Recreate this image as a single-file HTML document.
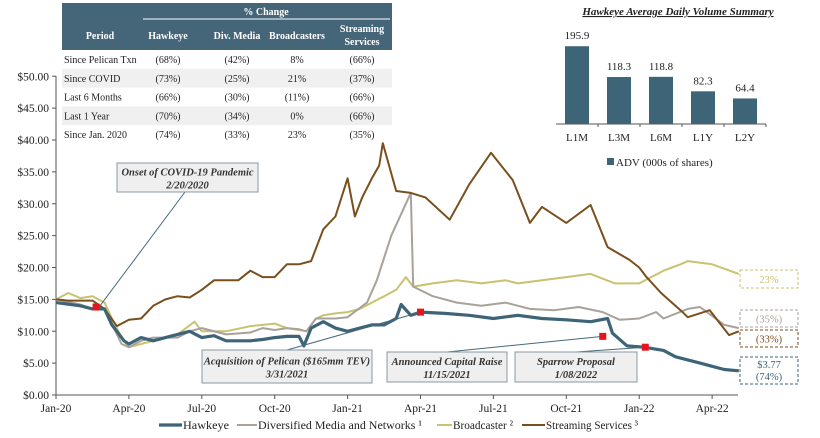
<!DOCTYPE html>
<html><head><meta charset="utf-8"><style>
body{margin:0;background:#fff;width:820px;height:433px;overflow:hidden;font-family:"Liberation Serif",serif;}
svg text{font-family:"Liberation Serif",serif;}
</style></head><body>
<svg id="c" width="820" height="433" viewBox="0 0 820 433" xmlns="http://www.w3.org/2000/svg">
<g id="table"></g>
<g id="adv"></g>
<g id="main"></g>
</svg>
<script>
// ---- data ----
const yTicks=[0,5,10,15,20,25,30,35,40,45,50];
const xTickLabels=["Jan-20","Apr-20","Jul-20","Oct-20","Jan-21","Apr-21","Jul-21","Oct-21","Jan-22","Apr-22"];
const xTickMonths=[0,3,6,9,12,15,18,21,24,27];
const hawkeyeT=[0,1,1.5,2,2.3,2.8,3,3.5,4,4.5,5.5,6,6.5,7,7.5,8,8.5,9,9.5,10,10.2,10.5,11,11.5,12,12.5,13,13.5,14,14.2,14.6,15,16,17,18,19,20,21,22,22.7,22.9,23.5,24.2,25,25.5,26,26.5,27,27.5,28.1];
const hawkeyeV=[14.5,14,13.5,13.5,11,8.5,8,9,8.5,9,10,9,9.3,8.5,8.5,8.5,8.7,9,9.2,9.2,7.7,10.5,11.5,10.5,10,10.5,11,11,12,14.2,12.5,13,12.8,12.5,12,12.5,12,11.8,11.5,12,9.7,7.7,7.5,7,6,5.5,5,4.5,4,3.8];
const divT=[0,1,1.5,2,2.7,3,3.5,4,5,5.5,6,7,8,8.5,9,9.5,10,10.3,10.7,11,11.5,12,12.8,13.2,13.8,14.6,14.7,15.5,16.5,17.5,18.5,19.5,20.5,21.5,22.5,23.2,24,24.7,25,26,26.5,27.5,28.1];
const divV=[15,14.2,13.5,13.5,8,7.5,8.5,9,9,10,10.5,9.5,9.8,10.5,10.2,10.5,10.3,10,12,12,12,12.2,14.5,18,25,31.7,17,15.5,14.5,14,14.5,13.5,13.3,13.8,13,11.8,12,13,12,13.5,13.8,11,10.5];
const brdT=[0,0.5,1,1.5,2,2.3,2.7,3,3.5,4,4.5,5,5.7,6,7,8,8.5,9,9.5,10,10.3,10.7,11,11.5,12,12.5,13,13.5,14,14.4,14.7,15.5,16.5,17.5,18.5,19,20,21,22,23,24,25,25.7,26,27,28.1];
const brdV=[15,16,15.2,15.5,14.5,12,9,7.5,8,8.5,9,9.5,11.5,10,10,10.8,11,11.2,10.5,10.2,10,12,12.5,12.8,13,13.5,14.5,15.5,16.5,18.5,17,17.5,18,17.5,18,17.5,18,18.5,19,17.5,17.5,19.5,20.5,21,20.5,19];
const strT=[0,0.5,1,1.5,2,2.5,3,3.5,4,4.5,5,5.5,6,6.5,7,7.5,8,8.5,9,9.5,10,10.5,11,11.5,12,12.3,12.6,13,13.3,13.45,14,14.6,15.2,16.2,17,17.9,18.8,19.5,20,21,22,22.7,23.6,24,24.3,24.9,25.7,26,26.9,27.7,28.1];
const strV=[15,14.8,14.8,14.8,13.5,10.8,11.8,12,14,15,15.5,15.3,16.5,18,18,18,19.5,18.5,18.5,20.5,20.5,21,26,28,34,28,31,34,36,39.5,32,31.7,31,27.5,33,38,33.7,27,29.5,27,29.8,23.2,21.2,20,18.5,16,13.3,12.2,13.3,9.4,10];
const eventT=[1.65,15,22.5,24.25];
const eventV=[13.8,13,9.2,7.5];
const advCats=["L1M","L3M","L6M","L1Y","L2Y"];
const advVals=[195.9,118.3,118.8,82.3,64.4];
const tblRows=["Since Pelican Txn","Since COVID","Last 6 Months","Last 1 Year","Since Jan. 2020"];
const tblHawk=["(68%)","(73%)","(66%)","(70%)","(74%)"];
const tblDiv=["(42%)","(25%)","(30%)","(34%)","(33%)"];
const tblBrd=["8%","21%","(11%)","0%","23%"];
const tblStr=["(66%)","(37%)","(66%)","(66%)","(35%)"];

const NS="http://www.w3.org/2000/svg";
function mk(parent,tag,attrs,txt){const e=document.createElementNS(NS,tag);for(const k in attrs)e.setAttribute(k,attrs[k]);if(txt!==undefined)e.textContent=txt;parent.appendChild(e);return e;}
const X=m=>56+m*24.3;
const Y=v=>395-v*6.375;

// ---- main chart ----
const main=document.getElementById('main');
let ax=mk(main,'line',{x1:56,y1:76,x2:56,y2:395,stroke:'#555','stroke-width':1});


ax=mk(main,'line',{x1:56,y1:395,x2:738,y2:395,stroke:'#555','stroke-width':1});


yTicks.forEach(v=>{
  mk(main,'line',{x1:52,y1:Y(v),x2:56,y2:Y(v),stroke:'#555'});
  const t=mk(main,'text',{x:49,y:Y(v)+4,'text-anchor':'end','font-size':11.5,fill:'#222'},'$'+v.toFixed(2));
  
  
});
xTickMonths.forEach((m,i)=>{
  mk(main,'line',{x1:X(m),y1:395,x2:X(m),y2:399,stroke:'#555'});
  const t=mk(main,'text',{x:X(m),y:412,'text-anchor':'middle','font-size':11.5,fill:'#222'},xTickLabels[i]);
  
  
});
function series(T,V,color,w,name){
  const d=T.map((t,i)=>(i?'L':'M')+X(t).toFixed(1)+','+Y(V[i]).toFixed(1)).join(' ');
  const p=mk(main,'path',{d:d,fill:'none',stroke:color,'stroke-width':w,'stroke-linejoin':'round'});
  
  
}
series(brdT,brdV,'#c9c26f',2,'broadcaster-line');
series(divT,divV,'#a8a29a',2,'diversified-media-line');
series(strT,strV,'#7a4f1e',2,'streaming-services-line');
series(hawkeyeT,hawkeyeV,'#3e6478',3.2,'hawkeye-line');

// annotations
function note(x,y,w,h,l1,l2,lx1,ly1,lx2,ly2,name){
  mk(main,'line',{x1:lx1,y1:ly1,x2:lx2,y2:ly2,stroke:'#44697c','stroke-width':1});
  const g=mk(main,'g',{});
  
  
  mk(g,'rect',{x:x,y:y,width:w,height:h,fill:'#efefef',stroke:'#8a9aa4','stroke-width':1});
  mk(g,'text',{x:x+w/2,y:y+h/2-2,'text-anchor':'middle','font-size':10.5,'font-style':'italic','font-weight':'bold',fill:'#333'},l1);
  mk(g,'text',{x:x+w/2,y:y+h/2+11,'text-anchor':'middle','font-size':10.5,'font-style':'italic','font-weight':'bold',fill:'#333'},l2);
}
note(117,163,141,29,'Onset of COVID-19 Pandemic','2/20/2020',185,192,X(eventT[0])+3,Y(eventV[0]),'covid-annotation');
note(202,350,170,33,'Acquisition of Pelican ($165mm TEV)','3/31/2021',287,350,X(eventT[1]),Y(eventV[1]),'pelican-annotation');
note(387,352,120,30,'Announced Capital Raise','11/15/2021',447,352,X(eventT[2]),Y(eventV[2]),'capital-raise-annotation');
note(515,352,122,30,'Sparrow Proposal','1/08/2022',576,352,X(eventT[3]),Y(eventV[3]),'sparrow-annotation');
eventT.forEach((t,i)=>{
  const r=mk(main,'rect',{x:X(t)-3.5,y:Y(eventV[i])-3.5,width:7,height:7,fill:'#e8141c'});
  
  
});
// end labels
function endBox(y,h,c,l1,l2,name){
  const g=mk(main,'g',{});
  
  
  mk(g,'rect',{x:740,y:y,width:58,height:h,fill:'#fff',stroke:c,'stroke-dasharray':'3,2'});
  if(l2){mk(g,'text',{x:769,y:y+11,'text-anchor':'middle','font-size':10.5,fill:c},l1);mk(g,'text',{x:769,y:y+23,'text-anchor':'middle','font-size':10.5,fill:c},l2);}
  else mk(g,'text',{x:769,y:y+h/2+4,'text-anchor':'middle','font-size':10.5,fill:c},l1);
}
endBox(270,18,'#c9c26f','23%',null,'broadcaster-end-label');
endBox(310,17,'#a8a29a','(35%)',null,'diversified-end-label');
endBox(330,17,'#7a4f1e','(33%)',null,'streaming-end-label');
endBox(357,27,'#3e6478','$3.77','(74%)','hawkeye-end-label');
// legend
const leg=[["Hawkeye",'#3e6478',159,23,46,3.2],["Diversified Media and Networks ¹",'#a8a29a',237,20,164,2],["Broadcaster ²",'#c9c26f',437,15,60,2],["Streaming Services ³",'#7a4f1e',522,23,92,2]];
leg.forEach(l=>{
  const g=mk(main,'g',{});
  
  
  mk(g,'line',{x1:l[2],y1:425,x2:l[2]+l[3],y2:425,stroke:l[1],'stroke-width':l[5]});
  mk(g,'text',{x:l[2]+l[3]+1,y:429,'font-size':12,fill:'#222',textLength:l[4],lengthAdjust:'spacingAndGlyphs'},l[0]);
});

// ---- table ----
const tb=document.getElementById('table');
mk(tb,'rect',{x:62,y:3,width:330,height:47,fill:'#456578'});
mk(tb,'line',{x1:143,y1:19,x2:390,y2:19,stroke:'#fff','stroke-width':1});
const hs={'font-size':10,'font-weight':'bold',fill:'#fff','text-anchor':'middle'};
mk(tb,'text',Object.assign({x:266,y:15},hs),'% Change');
mk(tb,'text',Object.assign({x:100,y:39},hs),'Period');
mk(tb,'text',Object.assign({x:168,y:39},hs),'Hawkeye');
mk(tb,'text',Object.assign({x:237,y:39},hs),'Div. Media');
mk(tb,'text',Object.assign({x:297,y:39},hs),'Broadcasters');
mk(tb,'text',Object.assign({x:362,y:32},hs),'Streaming');
mk(tb,'text',Object.assign({x:362,y:45},hs),'Services');
tblRows.forEach((r,i)=>{
  const y=50+i*18.8;
  const g=mk(tb,'g',{});
  
  
  if(i%2==1)mk(g,'rect',{x:62,y:y,width:330,height:18.8,fill:'#f0f0f0'});
  const ty=y+13;
  mk(g,'text',{x:64,y:ty,'font-size':10,fill:'#222'},r);
  [[tblHawk,168],[tblDiv,237],[tblBrd,297],[tblStr,362]].forEach(c=>mk(g,'text',{x:c[1],y:ty,'font-size':10,fill:'#222','text-anchor':'middle'},c[0][i]));
});

// ---- ADV bar chart ----
const adv=document.getElementById('adv');
const tt=mk(adv,'text',{x:678,y:15,'text-anchor':'middle','font-size':11,'font-style':'italic','font-weight':'bold',fill:'#222','text-decoration':'underline'},'Hawkeye Average Daily Volume Summary');


const bY=v=>124-v*0.397;
const bX=i=>577+i*42;
mk(adv,'line',{x1:556,y1:124,x2:766,y2:124,stroke:'#555'});
advCats.forEach((c,i)=>{
  const b=mk(adv,'rect',{x:bX(i)-12,y:bY(advVals[i]),width:24,height:124-bY(advVals[i]),fill:'#3e6478'});
  
  
  mk(adv,'text',{x:bX(i),y:bY(advVals[i])-7,'text-anchor':'middle','font-size':11,fill:'#222'},advVals[i].toFixed(1));
  mk(adv,'text',{x:bX(i),y:141,'text-anchor':'middle','font-size':11,fill:'#222'},c);
  mk(adv,'line',{x1:bX(i)+21,y1:124,x2:bX(i)+21,y2:127,stroke:'#555'});
});
const lg=mk(adv,'g',{});


mk(lg,'rect',{x:607,y:158,width:7,height:7,fill:'#3e6478'});
mk(lg,'text',{x:616,y:166,'font-size':11,fill:'#222'},'ADV (000s of shares)');
</script>
</body></html>
